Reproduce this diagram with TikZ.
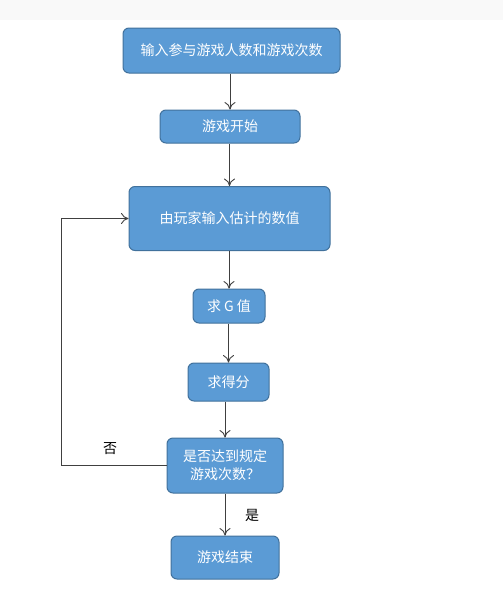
\documentclass[tikz,border=0pt]{standalone}
\usepackage{fontspec}
\setmainfont{Noto Sans CJK SC}
\usetikzlibrary{arrows.meta}
\definecolor{boxfill}{HTML}{5B9BD5}
\definecolor{boxline}{HTML}{41719C}
\definecolor{linec}{HTML}{404040}
\begin{document}
\begin{tikzpicture}[x=1pt,y=-1pt,
  flowbox/.style={draw=boxline, line width=1pt, fill=boxfill, rounded corners=6pt,
    text=white, font=\fontsize{14}{18}\selectfont, align=center, inner sep=0pt},
  conn/.style={draw=linec, line width=0.9pt, -{To[length=7.5pt,width=11pt]}},
  lbl/.style={font=\fontsize{14}{17}\selectfont, text=black}]
\useasboundingbox (0,0) rectangle (503,597);
\fill[gray!5] (0,0) rectangle (503,20);
\node[flowbox, minimum width=217pt, minimum height=45pt] (n1) at (231.5,50.5) {输入参与游戏人数和游戏次数};
\node[flowbox, minimum width=140pt, minimum height=33pt] (n2) at (230,126.5) {游戏开始};
\node[flowbox, minimum width=201pt, minimum height=64pt] (n3) at (229.5,218.5) {由玩家输入估计的数值};
\node[flowbox, minimum width=72pt, minimum height=34pt] (n4) at (229,306) {求 G 值};
\node[flowbox, minimum width=81pt, minimum height=38pt] (n5) at (228.5,382) {求得分};
\node[flowbox, minimum width=116pt, minimum height=55pt] (n6) at (225,465.5) {是否达到规定\\游戏次数？};
\node[flowbox, minimum width=108pt, minimum height=43pt] (n7) at (225,557.5) {游戏结束};
\coordinate (c1) at (61,465.5);
\coordinate (c2) at (61,218.5);
\draw[conn] (n1.south -| n2) -- (n2);
\draw[conn] (n2.south -| n3) -- (n3);
\draw[conn] (n3.south -| n4) -- (n4);
\draw[conn] (n4.south -| n5) -- (n5);
\draw[conn] (n5.south -| n6) -- (n6);
\draw[conn] (n6) -- (n7);
\draw[conn] (n6.west) -- (c1) -- (c2) -- (n3.west);
\node[lbl] (no) at (110,449) {否};
\node[lbl] (yes) at (252,515) {是};
\end{tikzpicture}
\end{document}
